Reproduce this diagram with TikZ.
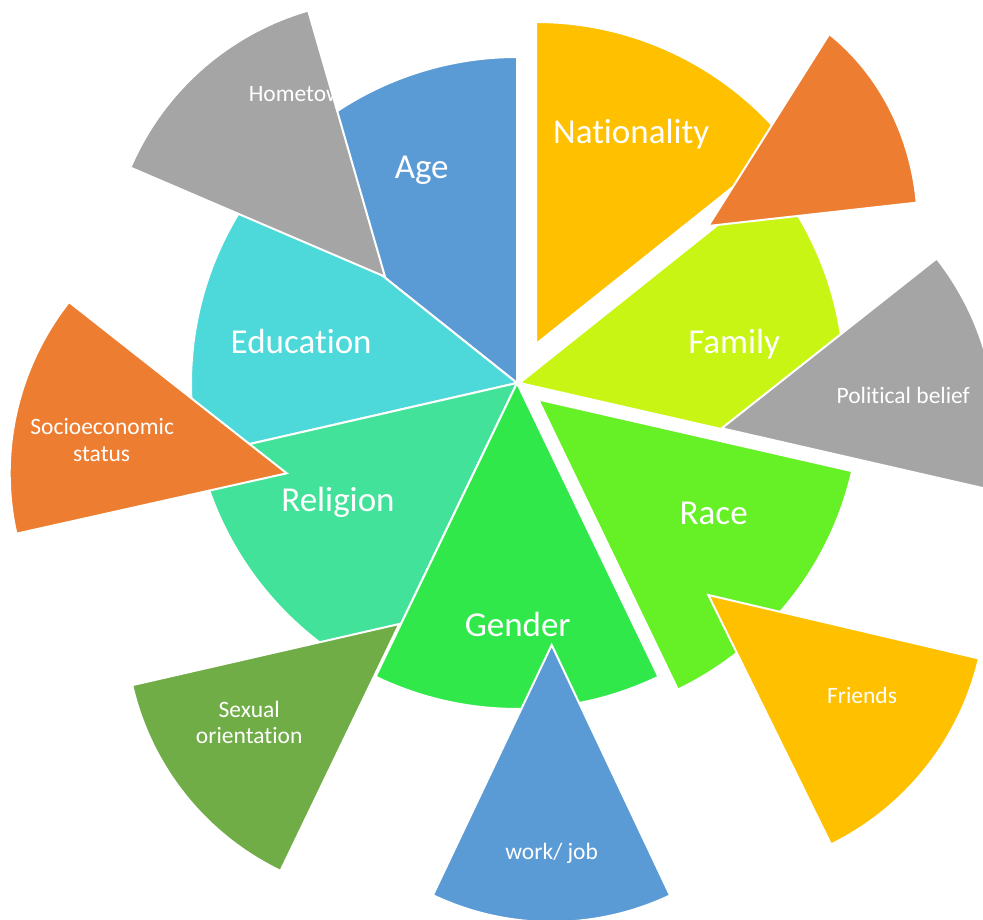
\documentclass[tikz,border=0pt]{standalone}
\usepackage{fontspec}
\setmainfont{Carlito}[Ligatures=NoCommon]
\definecolor{ageblue}{HTML}{5B9BD5}
\definecolor{natyellow}{HTML}{FFC000}
\definecolor{famlime}{RGB}{200,245,20}
\definecolor{racegreen}{RGB}{102,240,38}
\definecolor{gendergreen}{RGB}{49,232,75}
\definecolor{religmint}{RGB}{67,226,154}
\definecolor{educyan}{RGB}{77,216,218}
\definecolor{petalgray}{HTML}{A5A5A5}
\definecolor{petalorange}{HTML}{ED7D31}
\definecolor{petalolive}{HTML}{70AD47}
\begin{document}
\begin{tikzpicture}[x=1pt,y=1pt,
  wedge/.style={draw=white, line width=2pt, line join=miter},
  biglabel/.style={text=white, font=\fontsize{35}{42}\selectfont, anchor=base, inner sep=0pt},
  smalllabel/.style={text=white, font=\fontsize{23.5}{28}\selectfont, anchor=base, inner sep=0pt}]
\useasboundingbox (0,0) rectangle (983,920);
\clip (0,0) rectangle (983,920);
\coordinate (C) at (517,537);

% inner ring of seven sectors
\path[wedge, fill=ageblue]     (C) -- ++(90:326) arc[start angle=90, end angle=141.43, radius=326] -- cycle;
\path[wedge, fill=educyan]     (C) -- ++(141.43:326) arc[start angle=141.43, end angle=192.86, radius=326] -- cycle;
\path[wedge, fill=religmint]   (C) -- ++(192.86:326) arc[start angle=192.86, end angle=244.29, radius=326] -- cycle;
\path[wedge, fill=gendergreen] (C) -- ++(244.29:326) arc[start angle=244.29, end angle=295.71, radius=326] -- cycle;
\path[wedge, fill=famlime]     (519.5,537) -- ++(-12.86:325) arc[start angle=-12.86, end angle=38.57, radius=325] -- cycle;
\path[wedge, fill=natyellow]   (536,576) -- ++(38.57:322) arc[start angle=38.57, end angle=90, radius=322] -- cycle;
\path[wedge, fill=racegreen]   (538.2,520.5) -- ++(295.71:322) arc[start angle=295.71, end angle=347.14, radius=322] -- cycle;

% outer petals
\path[wedge, fill=petalgray]   (385,643.3) -- ++(106.1:277) arc[start angle=106.1, end angle=156.8, radius=277] -- cycle;
\path[wedge, fill=petalorange] (708.3,694) -- ++(5.7:209.4 and 235.2) arc[start angle=5.7, end angle=54.7, x radius=209.4, y radius=235.2] -- cycle;
\path[wedge, fill=petalgray]   (721.7,491.7) -- ++(-12.9:274) arc[start angle=-12.9, end angle=38.3, radius=274] -- cycle;
\path[wedge, fill=natyellow]   (708.3,325) -- ++(-63.8:278) arc[start angle=-63.8, end angle=-13.2, radius=278] -- cycle;
\path[wedge, fill=ageblue]     (551.7,275) -- ++(244.6:277) arc[start angle=244.6, end angle=295.3, radius=277] -- cycle;
\path[wedge, fill=petalolive]  (399.3,296) -- ++(192.9:274) arc[start angle=192.9, end angle=244.3, radius=274] -- cycle;
\path[wedge, fill=petalorange] (286.7,446.7) -- ++(141.8:277) arc[start angle=141.8, end angle=192.6, radius=277] -- cycle;

% label of the grey top-left petal, kept inside its petal
\begin{scope}
  \clip (385,643.3) -- ++(106.1:276) arc[start angle=106.1, end angle=156.8, radius=276] -- cycle;
  \node[smalllabel] (hometown) at (302,818.3) {Hometown};
\end{scope}

% sector labels
\node[biglabel] (age)         at (421.7,741.7) {Age};
\node[biglabel] (nationality) at (631.2,776.7) {Nationality};
\node[biglabel] (family)      at (734.2,566.7) {Family};
\node[biglabel] (race)        at (713.7,395)   {Race};
\node[biglabel] (gender)      at (517.7,283.3) {Gender};
\node[biglabel] (religion)    at (338,408.3)   {Religion};
\node[biglabel] (education)   at (301.2,566.7) {Education};

% petal labels
\node[smalllabel] (political) at (903.3,516)   {Political belief};
\node[smalllabel] (friends)   at (862,216)     {Friends};
\node[smalllabel] (work)      at (551.7,60)    {work/ job};
\node[smalllabel] (sexualA)   at (249.2,202.7) {Sexual};
\node[smalllabel] (sexualB)   at (249.2,176.7) {orientation};
\node[smalllabel] (socioA)    at (102.2,485)   {Socioeconomic};
\node[smalllabel] (socioB)    at (101.7,458.3) {status};
\end{tikzpicture}
\end{document}
